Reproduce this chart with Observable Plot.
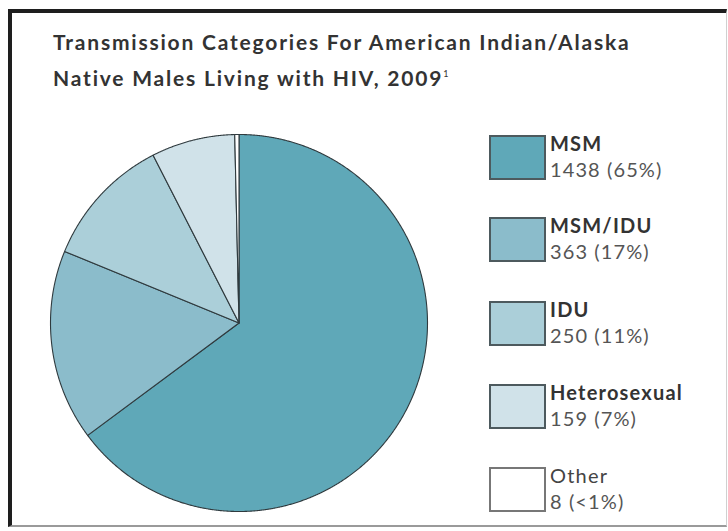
<!DOCTYPE html>
<html>
<head>
<meta charset="utf-8">
<script src="https://cdn.jsdelivr.net/npm/d3@7"></script>
<script src="https://cdn.jsdelivr.net/npm/@observablehq/plot@0.6"></script>
<style>
  html, body { margin: 0; padding: 0; background: #fff; }
  #wrap { position: relative; width: 728px; height: 531px; overflow: hidden; font-family: Lato, "Open Sans", sans-serif; }
  #frame { position: absolute; left: 8px; top: 9px; width: 719px; height: 518px;
           border-left: 4px solid #1e1e1e; border-top: 4px solid #1e1e1e;
           border-bottom: 2px solid #9a9a9a; border-right: 1px solid #d0d0d0; box-sizing: border-box; }
  #chart { position: absolute; left: 0; top: 0; }
  #title { position: absolute; left: 53px; top: 26px; font-weight: 700; font-size: 21px; letter-spacing: 1.8px; line-height: 32px; color: #333; white-space: nowrap; }
  #title sup { font-size: 9px; vertical-align: 9px; font-weight: 400; letter-spacing: 0; }
  .item { position: absolute; left: 489px; }
  .sw { position: absolute; left: 0; top: 0; width: 53px; height: 41px; border: 2px solid #555; }
  .lab { position: absolute; left: 61px; top: -2px; font-weight: 700; font-size: 20px; letter-spacing: 1.2px; color: #333; white-space: nowrap; line-height: 20px; }
  .val { position: absolute; left: 61px; top: 24px; font-weight: 400; font-size: 20px; letter-spacing: 1.1px; color: #555; white-space: nowrap; line-height: 20px; }
</style>
</head>
<body>
<div id="wrap">
  <div id="frame"></div>
  <div id="chart"></div>
  <div id="title">Transmission Categories For American Indian/Alaska<br>Native Males Living with HIV, 2009<sup>1</sup></div>
  <div id="legend"></div>
</div>
<script>
const categories = ["MSM", "MSM/IDU", "IDU", "Heterosexual", "Other"];
const counts = [1438, 363, 250, 159, 8];
const percentLabels = ["65%", "17%", "11%", "7%", "<1%"];
const colors = ["#5fa8b8", "#8bbccb", "#abcfd9", "#d0e2e9", "#ffffff"];

const data = categories.map((c, i) => ({category: c, count: counts[i]}));
const arcs = d3.pie().sort(null).value(d => d.count)(data);

// polygon outline of each slice, derived from the pie angles
const pts = [];
for (const a of arcs) {
  const c = a.data.category;
  pts.push({category: c, x: 0, y: 0});
  const n = Math.max(2, Math.ceil((a.endAngle - a.startAngle) / (Math.PI / 720)));
  for (let k = 0; k <= n; k++) {
    const t = a.startAngle + (a.endAngle - a.startAngle) * k / n;
    pts.push({category: c, x: Math.sin(t), y: -Math.cos(t)});
  }
  pts.push({category: c, x: 0, y: 0});
}

const plot = Plot.plot({
  width: 728,
  height: 531,
  margin: 0,
  style: {background: "transparent", overflow: "visible"},
  x: {domain: [-1, 1], range: [50, 427], axis: null},
  y: {domain: [-1, 1], range: [134, 511], axis: null},
  color: {domain: categories, range: colors},
  marks: [
    Plot.line(pts, {x: "x", y: "y", z: "category", fill: "category", stroke: "#2f3a3e", strokeWidth: 1.1, curve: "linear", strokeLinejoin: "round"})
  ]
});
document.getElementById("chart").appendChild(plot);

const legend = document.getElementById("legend");
const tops = [135, 217, 301, 384, 467];
categories.forEach((c, i) => {
  const it = document.createElement("div");
  it.className = "item";
  it.style.top = tops[i] + "px";
  it.innerHTML = `<div class="sw" style="background:${colors[i]};border-color:${i === 4 ? '#777' : '#4d5a5e'}"></div>` +
    `<div class="lab" style="${i === 4 ? 'font-weight:400;color:#444' : ''}">${c}</div>` +
    `<div class="val">${counts[i]} (${percentLabels[i].replace('<', '&lt;')})</div>`;
  legend.appendChild(it);
});
</script>
</body>
</html>
